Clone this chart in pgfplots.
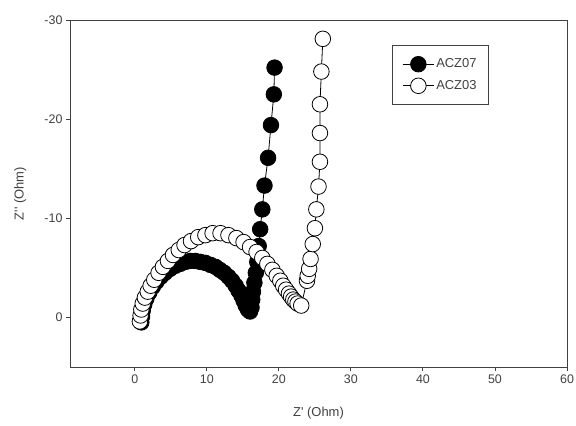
\documentclass[border=0pt]{standalone}
\usepackage{fontspec}
\setmainfont{Liberation Sans}[Ligatures=TeXOff]
\usepackage{pgfplots}
\pgfplotsset{compat=1.18}

\pgfplotstableread{
x y
0.9 0.5
1.0 -0.1
1.1 -0.7
1.3 -1.3
1.6 -1.9
2.0 -2.5
2.5 -3.1
3.0 -3.6
3.6 -4.1
4.2 -4.5
4.9 -4.9
5.6 -5.2
6.3 -5.4
7.0 -5.6
7.7 -5.7
8.4 -5.7
9.1 -5.6
9.8 -5.5
10.5 -5.3
11.2 -5.1
11.8 -4.8
12.4 -4.5
13.0 -4.1
13.5 -3.7
14.0 -3.2
14.4 -2.7
14.8 -2.2
15.1 -1.7
15.4 -1.2
15.7 -0.8
16.0 -0.6
16.2 -1.0
16.3 -1.8
16.4 -2.6
16.6 -3.5
16.8 -4.5
17.0 -5.6
17.2 -7.2
17.4 -8.9
17.7 -10.9
18.0 -13.3
18.5 -16.1
18.9 -19.4
19.3 -22.5
19.4 -25.2
}\acza

\pgfplotstableread{
x y
0.7 0.4
0.8 -0.2
0.9 -0.8
1.1 -1.4
1.4 -2.0
1.8 -2.6
2.2 -3.2
2.7 -3.8
3.3 -4.5
3.9 -5.1
4.6 -5.7
5.3 -6.3
6.1 -6.8
6.9 -7.3
7.8 -7.7
8.8 -8.1
9.8 -8.3
10.8 -8.5
11.9 -8.5
13.0 -8.3
14.1 -8.0
15.1 -7.6
16.0 -7.1
16.9 -6.6
17.7 -6.0
18.4 -5.4
19.1 -4.8
19.7 -4.2
20.2 -3.7
20.6 -3.2
21.0 -2.8
21.4 -2.4
21.7 -2.1
22.0 -1.8
22.3 -1.6
22.6 -1.4
23.1 -1.2
23.9 -3.7
24.0 -4.2
24.2 -4.9
24.4 -5.9
24.7 -7.4
25.0 -9.0
25.2 -10.9
25.5 -13.2
25.7 -15.7
25.7 -18.6
25.7 -21.5
25.9 -24.8
26.1 -28.1
}\aczb

\begin{document}
\begin{tikzpicture}
\begin{axis}[
  scale only axis, width=497bp, height=347bp,
  xmin=-9, xmax=60, ymin=-30, ymax=5, y dir=reverse,
  xtick={0,10,...,60}, ytick={-30,-20,-10,0},
  tick align=outside, tick pos=left, major tick length=4bp,
  axis line style={black!75, line width=0.9bp},
  every tick/.style={black!75, line width=0.9bp},
  /pgf/number format/assume math mode=true,
  tick label style={font=\fontsize{12.5}{14}\selectfont, text=black!75},
  xlabel={Z' (Ohm)}, ylabel={Z'' (Ohm)},
  every axis x label/.style={at={(axis description cs:0.5,-0.133)}, anchor=center,
    font=\fontsize{13}{15}\selectfont, text=black!75},
  every axis y label/.style={at={(axis description cs:-0.1,0.5)}, rotate=90, anchor=center,
    font=\fontsize{13}{15}\selectfont, text=black!75},
  legend style={at={(axis description cs:0.648,0.928)}, anchor=north west,
    draw=black!75, line width=0.8bp, font=\fontsize{13}{15}\selectfont,
    inner xsep=10bp, inner ysep=11bp, row sep=6bp, text=black!75},
  legend cell align=left,
  legend image code/.code={\draw[mark repeat=2,mark phase=2]
    plot coordinates {(0bp,0bp) (15.5bp,0bp) (31bp,0bp)};},
]
\addplot[black, line width=0.8bp, mark=*, mark size=7.8bp,
  mark options={fill=black, draw=black}] table {\acza};
\addplot[black, line width=0.8bp, mark=*, mark size=7.8bp,
  mark options={fill=white, draw=black}] table {\aczb};
\legend{ACZ07,ACZ03}
\end{axis}
\pgfresetboundingbox
\path[use as bounding box] ([shift={(-70bp,-58bp)}]current axis.south west)
  rectangle ([shift={(9bp,20bp)}]current axis.north east);
\end{tikzpicture}
\end{document}
